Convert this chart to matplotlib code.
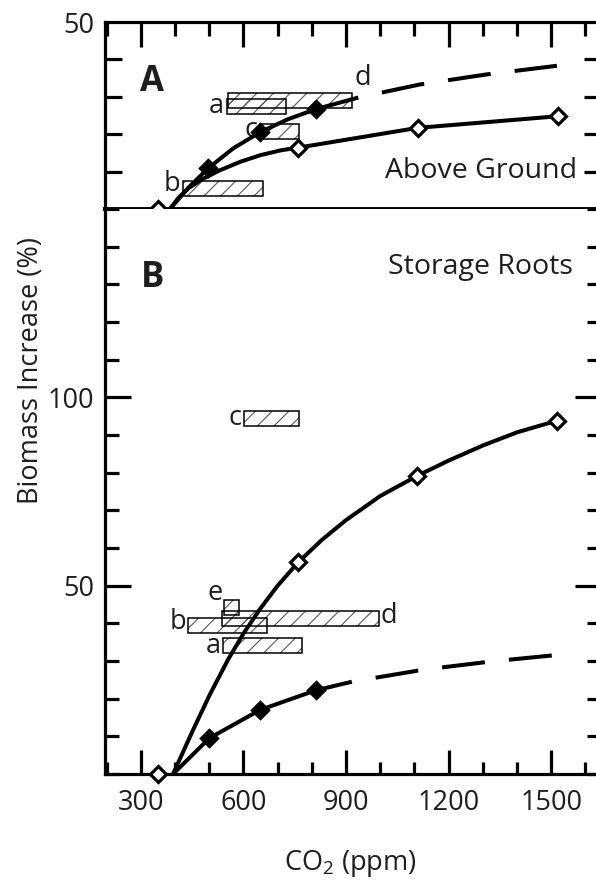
import matplotlib
matplotlib.use('Agg')
import matplotlib.pyplot as plt
from matplotlib.ticker import MultipleLocator, FixedLocator
import numpy as np

# ---- data (CO2 in ppm, biomass increase in %) ----
# panel A, above ground
a_open_x = [350, 760, 1110, 1520]
a_open_y = [0, 16.4, 21.7, 24.8]
a_open_curve_x = [385, 410, 440, 480, 530, 590, 650, 710, 760, 1110, 1520]
a_open_curve_y = [0, 3.0, 5.6, 8.0, 10.3, 12.6, 14.4, 15.7, 16.4, 21.7, 24.8]

a_fill_x = [497, 648, 812]
a_fill_y = [10.9, 20.5, 26.7]
a_fill_curve_x = [385, 440, 497, 570, 648, 730, 812, 936]
a_fill_curve_y = [0, 5.8, 10.9, 16.2, 20.5, 24.0, 26.7, 29.8]
a_fill_dash_x = [936, 1116, 1312, 1517]
a_fill_dash_y = [29.8, 33.3, 36.0, 38.3]

a_box_names = ['a', 'd', 'c', 'b']
a_box_lo = [551, 556, 648, 422]
a_box_hi = [725, 917, 762, 656]
a_box_y = [27.5, 28.9, 20.6, 5.5]

# panel B, storage roots
b_open_x = [350, 760, 1107, 1517]
b_open_y = [0, 56.2, 79.1, 93.8]
b_open_curve_x = [394, 450, 500, 555, 600, 650, 700, 760, 830, 900, 1000, 1107, 1200, 1300, 1400, 1517]
b_open_curve_y = [0, 11.2, 20.8, 30.4, 37.3, 44.0, 50.0, 56.2, 62.2, 67.4, 73.8, 79.1, 83.2, 87.2, 90.7, 93.8]

b_fill_x = [500, 648, 811]
b_fill_y = [9.5, 17.0, 22.2]
b_fill_curve_x = [394, 500, 648, 811, 917]
b_fill_curve_y = [0, 9.5, 17.0, 22.2, 24.5]
b_fill_dash_x = [917, 1126, 1326, 1517]
b_fill_dash_y = [24.5, 27.7, 29.9, 31.6]

b_box_names = ['c', 'e', 'd', 'b', 'a']
b_box_lo = [601, 543, 536, 438, 541]
b_box_hi = [763, 588, 997, 668, 770]
b_box_y = [94.4, 44.3, 41.4, 39.5, 34.1]

x_major = [300, 600, 900, 1200, 1500]

plt.rcParams['font.family'] = ['Open Sans', 'DejaVu Sans']
plt.rcParams['mathtext.fontset'] = 'custom'
plt.rcParams['mathtext.rm'] = 'Open Sans'
plt.rcParams['hatch.linewidth'] = 0.8
txt = '#1e1e1e'
fs = 19.5
LW = 2.9
SPINE = 2.3

fig = plt.figure(figsize=(5.96, 8.81), dpi=100)
axA = fig.add_axes([0.1762, 0.7628, 0.8322, 0.2122])
axB = fig.add_axes([0.1762, 0.1214, 0.8322, 0.6414])

for ax in (axA, axB):
    ax.set_xlim(195, 1646)
    for s in ax.spines.values():
        s.set_linewidth(SPINE)
    ax.xaxis.set_major_locator(FixedLocator(x_major))
    ax.xaxis.set_minor_locator(MultipleLocator(100))
    ax.tick_params(which='both', direction='in', width=SPINE, colors='black',
                   labelcolor=txt, labelsize=fs)

axA.set_ylim(0, 50)
axB.set_ylim(0, 150)
axB.spines['top'].set_visible(False)
axA.spines['bottom'].set_linewidth(2.8)
axA.spines['bottom'].set_zorder(1)

# ticks panel A
axA.tick_params(axis='x', which='both', top=True, bottom=False,
                labeltop=False, labelbottom=False)
axA.tick_params(axis='x', which='major', length=18)
axA.tick_params(axis='x', which='minor', length=10)
axA.set_yticks([50])
axA.yaxis.set_minor_locator(FixedLocator([10, 20, 30, 40]))
axA.tick_params(axis='y', which='both', left=True, right=True)
axA.tick_params(axis='y', which='major', length=0, pad=8)
axA.tick_params(axis='y', which='minor', length=12)

# ticks panel B
axB.tick_params(axis='x', which='both', top=False, bottom=True)
axB.tick_params(axis='x', which='major', length=17, pad=11)
axB.tick_params(axis='x', which='minor', length=9)
axB.set_yticks([50, 100])
axB.yaxis.set_minor_locator(MultipleLocator(10))
axB.tick_params(axis='y', which='both', left=True, right=True)
axB.tick_params(axis='y', which='major', length=19, pad=8)
axB.tick_params(axis='y', which='minor', length=10)


def boxes(ax, lo, hi, yc):
    lo = np.array(lo)
    hi = np.array(hi)
    ax.barh(yc, hi - lo, left=lo, height=4, facecolor='none', edgecolor='0.35',
            linewidth=0, hatch='//', zorder=2)
    ax.barh(yc, hi - lo, left=lo, height=4, fill=False, edgecolor='black',
            linewidth=1.1, zorder=2.1)


mk = dict(marker='D', ms=8.5, mew=2.3, linestyle='none', clip_on=False, zorder=5)
curve = dict(color='black', lw=LW, zorder=4, solid_capstyle='butt', solid_joinstyle='round')
dash = dict(color='black', lw=LW, zorder=4, linestyle=(10.7, (10.7, 6)), dash_capstyle='butt')

# panel A
boxes(axA, a_box_lo, a_box_hi, a_box_y)
axA.plot(a_open_curve_x, a_open_curve_y, **curve)
axA.plot(a_fill_curve_x, a_fill_curve_y, **curve)
axA.plot(a_fill_dash_x, a_fill_dash_y, **dash)
axA.plot(a_open_x, a_open_y, mfc='white', mec='black', **mk)
axA.plot(a_fill_x, a_fill_y, mfc='black', mec='black', **mk)

axA.text(a_box_lo[0] - 8, a_box_y[0], 'a', ha='right', va='center', fontsize=fs, color=txt)
axA.text(a_box_lo[2] - 8, a_box_y[2] + 0.5, 'c', ha='right', va='center', fontsize=fs, color=txt)
axA.text(a_box_lo[3] - 8, a_box_y[3] + 1.2, 'b', ha='right', va='center', fontsize=fs, color=txt)
axA.text(a_box_hi[1] + 8, a_box_y[1] + 6, 'd', ha='left', va='center', fontsize=fs, color=txt)
axA.text(297, 31.5, 'A', fontsize=25, fontweight='bold', color=txt, ha='left', va='baseline')
axA.text(1576, 8.3, 'Above Ground', fontsize=20.5, color=txt, ha='right', va='baseline')

# panel B
boxes(axB, b_box_lo, b_box_hi, b_box_y)
axB.plot(b_open_curve_x, b_open_curve_y, **curve)
axB.plot(b_fill_curve_x, b_fill_curve_y, **curve)
axB.plot(b_fill_dash_x, b_fill_dash_y, **dash)
axB.plot(b_open_x, b_open_y, mfc='white', mec='black', **mk)
axB.plot(b_fill_x, b_fill_y, mfc='black', mec='black', **mk)

for name, lo, hi, yc in zip(b_box_names, b_box_lo, b_box_hi, b_box_y):
    if name == 'd':
        axB.text(hi + 3, yc + 0.6, name, ha='left', va='center', fontsize=fs, color=txt)
    elif name == 'e':
        axB.text(lo - 4, yc + 3.8, name, ha='right', va='center', fontsize=fs, color=txt)
    elif name == 'b':
        axB.text(lo - 4, yc + 0.8, name, ha='right', va='center', fontsize=fs, color=txt)
    else:
        axB.text(lo - 8, yc, name, ha='right', va='center', fontsize=fs, color=txt)
axB.text(300, 129.3, 'B', fontsize=25, fontweight='bold', color=txt, ha='left', va='baseline')
axB.text(1564, 132.7, 'Storage Roots', fontsize=20.5, color=txt, ha='right', va='baseline')

fig.text(0.052, 0.58, 'Biomass Increase (%)', rotation=90, ha='center', va='center',
         fontsize=fs, color=txt)
fig.text(0.587, 0.012, 'CO$_2$ (ppm)', ha='center', va='baseline', fontsize=fs, color=txt)

fig.savefig('out.png', dpi=100)
